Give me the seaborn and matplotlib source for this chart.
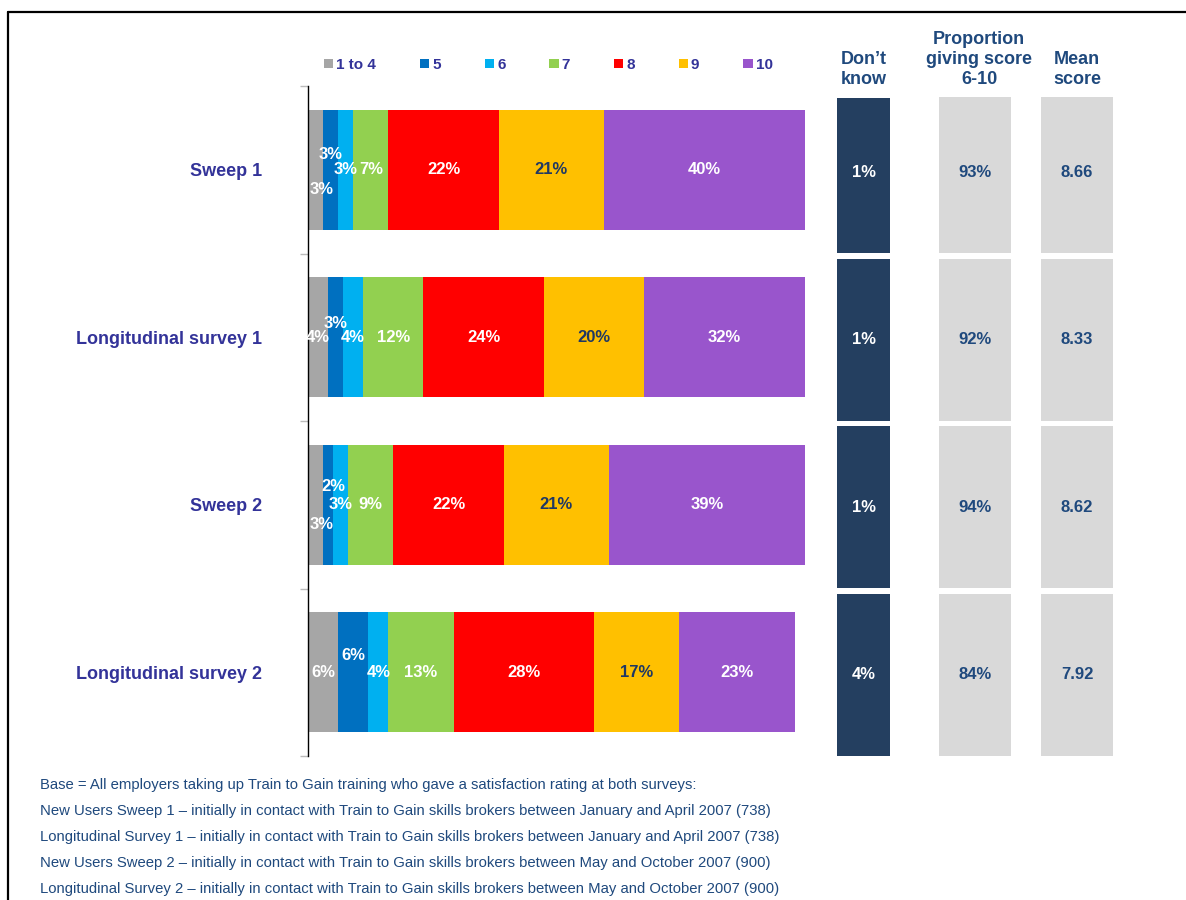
import numpy as np
import pandas as pd
import matplotlib
matplotlib.use("Agg")
import matplotlib.pyplot as plt
from matplotlib.patches import Patch
from matplotlib.lines import Line2D
import seaborn as sns

# ---------------- data ----------------
categories = ["Sweep 1", "Longitudinal survey 1", "Sweep 2", "Longitudinal survey 2"]
score_bands = ["1 to 4", "5", "6", "7", "8", "9", "10"]
band_1_4 = [3, 4, 3, 6]
band_5 = [3, 3, 2, 6]
band_6 = [3, 4, 3, 4]
band_7 = [7, 12, 9, 13]
band_8 = [22, 24, 22, 28]
band_9 = [21, 20, 21, 17]
band_10 = [40, 32, 39, 23]
dont_know = [1, 1, 1, 4]
prop_6_10 = [93, 92, 94, 84]
mean_score = [8.66, 8.33, 8.62, 7.92]

footnotes = [
    "Base = All employers taking up Train to Gain training who gave a satisfaction rating at both surveys:",
    "New Users Sweep 1 \u2013 initially in contact with Train to Gain skills brokers between January and April 2007 (738)",
    "Longitudinal Survey 1 \u2013 initially in contact with Train to Gain skills brokers between January and April 2007 (738)",
    "New Users Sweep 2 \u2013 initially in contact with Train to Gain skills brokers between May and October 2007 (900)",
    "Longitudinal Survey 2 \u2013 initially in contact with Train to Gain skills brokers between May and October 2007 (900)",
]

# ---------------- style ----------------
seg_colors = ["#A6A6A6", "#0070C0", "#00B0F0", "#92D050", "#FF0000", "#FFC000", "#9955CC"]
seg_text_colors = ["white", "white", "white", "white", "white", "#1F3864", "white"]
cat_color = "#333399"
navy = "#1F497D"
dk_fill = "#243F60"
lt_fill = "#D9D9D9"

# label nudges for narrow segments: (row, band) -> (dx in %, dy in rows)
nudges = {
    (0, 0): (1.3, 0.12), (0, 1): (0.0, -0.09),
    (1, 1): (0.0, -0.08),
    (2, 0): (1.3, 0.12), (2, 1): (1.0, -0.11),
    (3, 1): (0.0, -0.10),
}

sns.set_theme(style="white")
plt.rcParams["font.family"] = ["Liberation Sans", "DejaVu Sans"]

W, H = 1186, 900
fig = plt.figure(figsize=(W / 100, H / 100), dpi=100)


def fx(px):
    return px / W


def fy(py):
    return 1 - py / H


# frame lines
fig.add_artist(Line2D([fx(8), 1], [fy(12), fy(12)], color="black", lw=1.6, transform=fig.transFigure))
fig.add_artist(Line2D([fx(8), fx(8)], [fy(12), 0], color="black", lw=1.6, transform=fig.transFigure))

# ---------------- main stacked bars ----------------
ax = fig.add_axes([fx(308), fy(756), fx(810) - fx(308), fy(86) - fy(756)])
bands = np.array([band_1_4, band_5, band_6, band_7, band_8, band_9, band_10], dtype=float).T
cum = np.cumsum(bands, axis=1)
for i in reversed(range(len(score_bands))):
    df = pd.DataFrame({"cat": categories, "val": cum[:, i]})
    sns.barplot(data=df, x="val", y="cat", orient="h", color=seg_colors[i], saturation=1,
                width=0.716, linewidth=0, errorbar=None, ax=ax)

for r in range(len(categories)):
    left = 0.0
    for i in range(len(score_bands)):
        v = bands[r, i]
        dx, dy = nudges.get((r, i), (0.0, 0.0))
        ax.text(left + v / 2 + dx, r + dy, f"{int(v)}%", ha="center", va="center",
                fontsize=12, fontweight="bold", color=seg_text_colors[i])
        left += v

ax.set_xlim(0, 100)
ax.set_ylim(3.5, -0.5)
ax.set_xlabel("")
ax.set_ylabel("")
ax.set_xticks([])
ax.set_yticks(range(len(categories)))
ax.set_yticklabels(categories, fontsize=13, fontweight="bold", color=cat_color)
ax.set_yticks(np.arange(-0.5, 4.0, 1.0), minor=True)
ax.tick_params(axis="y", which="major", length=0, pad=33)
ax.tick_params(axis="y", which="minor", length=6, width=1, color="#BBBBBB", direction="out", left=True)
for s in ["top", "right", "bottom"]:
    ax.spines[s].set_visible(False)
ax.spines["left"].set_color("black")
ax.spines["left"].set_linewidth(1.0)

# legend
handles = [Patch(facecolor=c, edgecolor="none") for c in seg_colors]
fig.legend(handles, score_bands, loc="center left", bbox_to_anchor=(fx(324), fy(65)),
           bbox_transform=fig.transFigure, ncol=7, frameon=False, borderpad=0, borderaxespad=0,
           handlelength=0.6, handleheight=0.6, handletextpad=0.2, columnspacing=2.88,
           prop={"weight": "bold", "size": 11}, labelcolor=cat_color)

# ---------------- right-hand columns ----------------
col_specs = [
    (837, 890, 98, dk_fill, "white", [f"{v}%" for v in dont_know], "Don\u2019t\nknow", 863.5),
    (939, 1011, 97, lt_fill, navy, [f"{v}%" for v in prop_6_10], "Proportion\ngiving score\n6-10", 979),
    (1041, 1113, 97, lt_fill, navy, [f"{v:.2f}" for v in mean_score], "Mean\nscore", 1077),
]
for x0, x1, ytop, fill, tcol, labels, header, hx in col_specs:
    cax = fig.add_axes([fx(x0), fy(758.5), fx(x1) - fx(x0), fy(ytop) - fy(758.5)])
    df = pd.DataFrame({"cat": categories, "val": [1] * len(categories)})
    sns.barplot(data=df, x="val", y="cat", orient="h", color=fill, saturation=1,
                width=0.97, linewidth=0, errorbar=None, ax=cax)
    cax.set_xlim(0, 1)
    cax.set_ylim(3.5, -0.5 + (ytop - 88.5) / 167.5)
    cax.axis("off")
    for r, lab in enumerate(labels):
        cax.text(0.5, r, lab, ha="center", va="center", fontsize=12,
                 fontweight="bold", color=tcol)
    fig.text(fx(hx), fy(88), header, ha="center", va="bottom", fontsize=13,
             fontweight="bold", color=navy, linespacing=1.22)

# ---------------- footnotes ----------------
for k, line in enumerate(footnotes):
    fig.text(fx(40), fy(785 + 26 * k), line, ha="left", va="center", fontsize=10.7, color=navy)

fig.savefig("out.png", dpi=100)
